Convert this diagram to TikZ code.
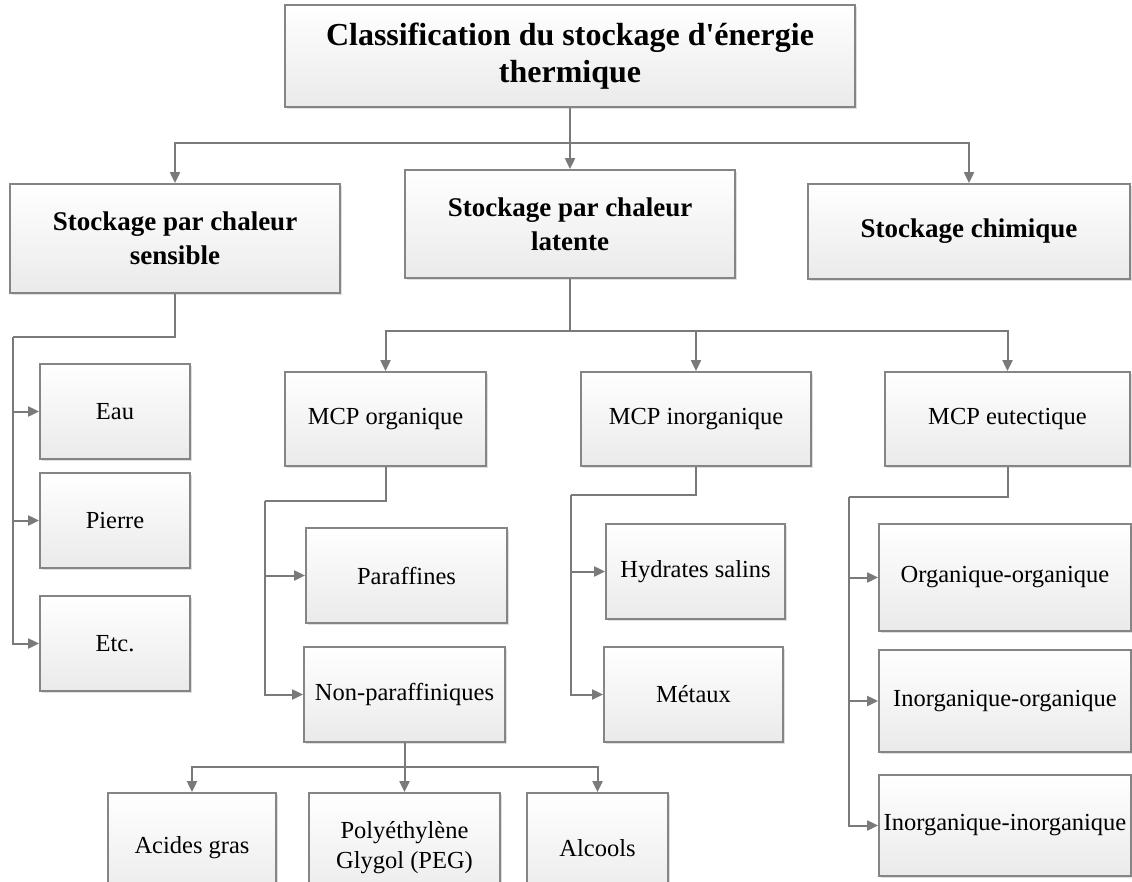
\documentclass[tikz,border=0pt]{standalone}
\usepackage{fontspec}
\setmainfont{Liberation Serif}
\usepackage{tikz}
\usetikzlibrary{arrows.meta, positioning, shadows, calc}
\definecolor{linegray}{HTML}{7A7A7A}
\definecolor{boxgray}{HTML}{858585}
\definecolor{fillbot}{HTML}{EAEAEA}

\begin{document}
\begin{tikzpicture}[x=1pt, y=-1pt,
    box/.style={draw=boxgray, line width=1.8pt, top color=white, bottom color=fillbot,
      align=center, inner sep=2pt, font=\fontsize{24.5}{30}\selectfont,
      drop shadow={shadow xshift=2pt, shadow yshift=-2pt, opacity=0.25, fill=gray}},
    headbox/.style={box, font=\fontsize{27}{34}\selectfont\bfseries},
    link/.style={draw=linegray, line width=2pt},
    arr/.style={link, -{Triangle[length=11pt, width=10pt]}}]
        \useasboundingbox (0,0) rectangle (1132,881);
        \clip (0,0) rectangle (1132,881);

        % --- Root ---
        \node[headbox, font=\fontsize{32}{37}\selectfont\bfseries,
              minimum width=570pt, minimum height=102pt] (top) at (570,56)
              {Classification du stockage d\textquotesingle énergie\\thermique};

        % --- Level 2 ---
        \node[headbox, minimum width=330pt, minimum height=109pt] (sens) at (175,238.5)
              {Stockage par chaleur\\sensible};
        \node[headbox, minimum width=330pt, minimum height=108pt] (lat) at (570,224)
              {Stockage par chaleur\\latente};
        \node[headbox, minimum width=322pt, minimum height=95pt] (chim) at (969,231.5)
              {Stockage chimique};
        \coordinate (b1) at (570,143);
        \draw[link] (top.south) -- (b1);
        \draw[arr] (b1) -| (sens.north);
        \draw[arr] (b1) -- (lat.north);
        \draw[arr] (b1) -| (chim.north);

        % --- Sensible heat ---
        \node[box, minimum width=150pt, minimum height=95pt] (eau) at (115,411.5) {Eau};
        \node[box, minimum width=150pt, minimum height=95pt] (pierre) at (115,520.5) {Pierre};
        \node[box, minimum width=150pt, minimum height=95pt] (etc) at (115,643.5) {Etc.};
        \coordinate (sl) at (13,337);
        \draw[link] (sens.south) |- (sl);
        \draw[arr] (sl) |- (eau.west);
        \draw[arr] (sl) |- (pierre.west);
        \draw[arr] (sl) |- (etc.west);

        % --- Latent heat: MCP ---
        \node[box, minimum width=201pt, minimum height=94pt] (org) at (385.5,419) {MCP organique};
        \node[box, minimum width=230pt, minimum height=94pt] (inorg) at (696,419) {MCP inorganique};
        \node[box, minimum width=245pt, minimum height=94pt] (eut) at (1007.5,419) {MCP eutectique};
        \coordinate (b2) at (570,331);
        \draw[link] (lat.south) -- (b2);
        \draw[arr] (b2) -| (org.north);
        \draw[arr] (b2) -| (inorg.north);
        \draw[arr] (b2) -| (eut.north);

        % organic
        \node[box, minimum width=201pt, minimum height=95pt] (para) at (406.5,575.5) {Paraffines};
        \node[box, minimum width=201pt, minimum height=95pt] (nonpara) at (404.5,694.5) {Non-paraffiniques};
        \coordinate (ol) at (265,501);
        \draw[link] (org.south) |- (ol);
        \draw[arr] (ol) |- (para.west);
        \draw[arr] (ol) |- (nonpara.west);

        % inorganic
        \node[box, minimum width=179pt, minimum height=95pt] (hyd) at (695.5,571.5) {Hydrates salins};
        \node[box, minimum width=179pt, minimum height=95pt] (met) at (693.5,694.5) {Métaux};
        \coordinate (il) at (571,495);
        \draw[link] (inorg.south) |- (il);
        \draw[arr] (il) |- (hyd.west);
        \draw[arr] (il) |- (met.west);

        % eutectic
        \node[box, minimum width=252pt, minimum height=107pt] (oo) at (1005,577.5) {Organique-organique};
        \node[box, minimum width=252pt, minimum height=102pt] (io) at (1005,701) {Inorganique-organique};
        \node[box, minimum width=252pt, minimum height=101pt] (ii) at (1005,825.5) {Inorganique-inorganique};
        \coordinate (el) at (849,497);
        \draw[link] (eut.south) |- (el);
        \draw[arr] (el) |- (oo.west);
        \draw[arr] (el) |- (io.west);
        \draw[arr] (el) |- (ii.west);

        % --- Non-paraffinic families ---
        \node[box, minimum width=168pt, minimum height=110pt] (acid) at (192,848) {Acides gras};
        \node[box, minimum width=191pt, minimum height=110pt] (peg) at (404.5,848) {Polyéthylène\\Glygol (PEG)};
        \node[box, minimum width=141pt, minimum height=110pt] (alc) at (597.5,848) {Alcools};
        \coordinate (b3) at (404.5,767);
        \draw[link] (nonpara.south) -- (b3);
        \draw[arr] (b3) -| (acid.north);
        \draw[arr] (b3) -- (peg.north);
        \draw[arr] (b3) -| (alc.north);
\end{tikzpicture}
\end{document}
